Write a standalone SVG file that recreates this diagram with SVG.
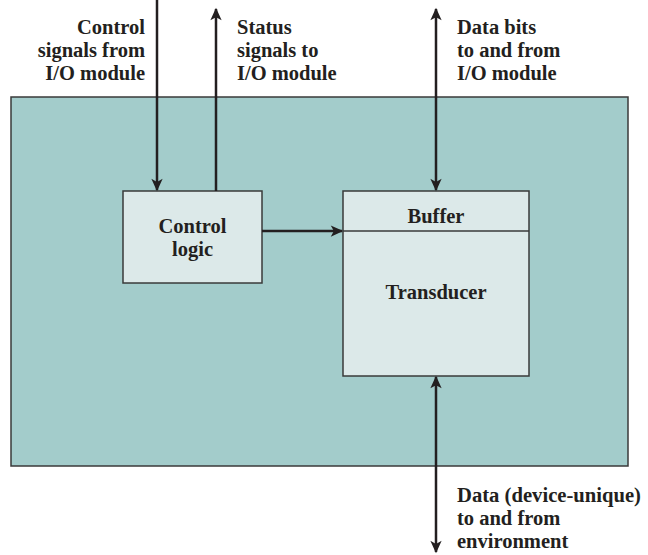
<svg xmlns="http://www.w3.org/2000/svg" width="648" height="555" viewBox="0 0 648 555">
<defs>
<style>
text{font-family:"Liberation Serif","Times New Roman",serif;font-weight:bold;font-size:20.5px;fill:#231f20}
.box{fill:#dce9e9;stroke:#3a3a3a;stroke-width:1.5}
.ln{stroke:#231f20;stroke-width:2.5;fill:none}
</style>
<marker id="ah" viewBox="0 0 10 10" refX="9" refY="5" markerWidth="5.5" markerHeight="5" orient="auto-start-reverse" markerUnits="strokeWidth">
<path d="M0,0.5 L10,5 L0,9.5 L2.5,5 Z" fill="#231f20"/>
</marker>
</defs>
<rect id="device" x="11" y="97" width="617" height="369" fill="#a3cccb" stroke="#3a3a3a" stroke-width="1.5"/>
<g id="control-logic">
<rect class="box" x="123" y="191" width="139" height="92"/>
<text x="192.5" y="233" text-anchor="middle">Control</text>
<text x="192.5" y="256" text-anchor="middle">logic</text>
</g>
<g id="buffer-transducer">
<rect class="box" x="343" y="191" width="186" height="185"/>
<line x1="343" y1="231" x2="529" y2="231" stroke="#3a3a3a" stroke-width="1.5"/>
<text x="436" y="223" text-anchor="middle">Buffer</text>
<text x="436" y="299" text-anchor="middle">Transducer</text>
</g>
<g id="connectors">
<line class="ln" x1="157" y1="0" x2="157" y2="190" marker-end="url(#ah)"/>
<line class="ln" x1="216" y1="191" x2="216" y2="9" marker-end="url(#ah)"/>
<line class="ln" x1="436" y1="9" x2="436" y2="190" marker-start="url(#ah)" marker-end="url(#ah)"/>
<line class="ln" x1="262" y1="231" x2="342" y2="231" marker-end="url(#ah)"/>
<line class="ln" x1="436" y1="377" x2="436" y2="552" marker-start="url(#ah)" marker-end="url(#ah)"/>
</g>
<g id="labels">
<text x="145" y="34" text-anchor="end">Control</text>
<text x="145" y="57" text-anchor="end">signals from</text>
<text x="145" y="80" text-anchor="end">I/O module</text>
<text x="237" y="34">Status</text>
<text x="237" y="57">signals to</text>
<text x="237" y="80">I/O module</text>
<text x="457" y="34">Data bits</text>
<text x="457" y="57">to and from</text>
<text x="457" y="80">I/O module</text>
<text x="457" y="502" textLength="184" lengthAdjust="spacingAndGlyphs">Data (device-unique)</text>
<text x="457" y="525">to and from</text>
<text x="457" y="548">environment</text>
</g>
</svg>
